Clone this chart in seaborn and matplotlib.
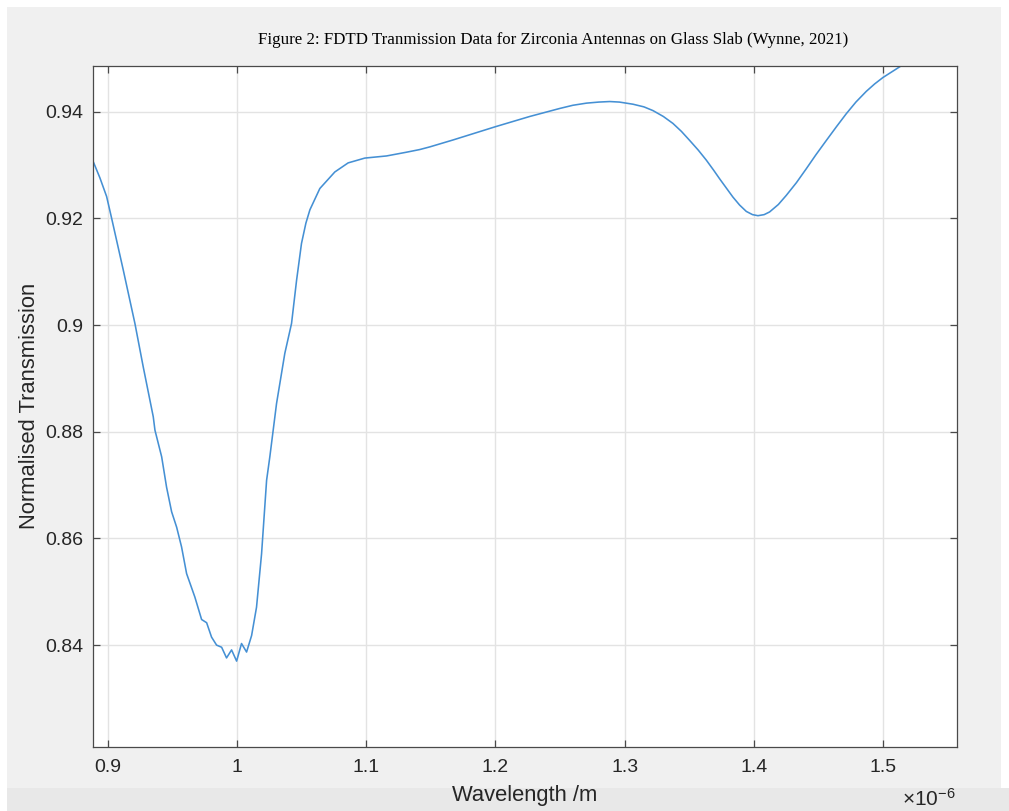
import matplotlib
matplotlib.use("Agg")
import matplotlib.pyplot as plt
import matplotlib.patches as mpatches
from matplotlib.ticker import FixedLocator, FuncFormatter
import seaborn as sns
import pandas as pd

# Wavelength in micrometres (axis shows value x 10^-6 m)
wavelength_um = [
    0.8889, 0.8940, 0.8992, 0.9031, 0.9121, 0.9211, 0.9275, 0.9353, 0.9366, 0.9418,
    0.9456, 0.9495, 0.9534, 0.9572, 0.9611, 0.9675, 0.9727, 0.9766, 0.9804, 0.9843,
    0.9882, 0.9920, 0.9959, 0.9998, 1.0036, 1.0075, 1.0114, 1.0152, 1.0191, 1.0230,
    1.0255, 1.0307, 1.0371, 1.0423, 1.0462, 1.0500, 1.0534, 1.0565, 1.0642, 1.0758,
    1.0861, 1.0990, 1.1158, 1.1312, 1.1415, 1.1493, 1.1673, 1.2003, 1.2266, 1.2498,
    1.2600, 1.2705, 1.2800, 1.2885, 1.2960, 1.3065, 1.3150, 1.3220, 1.3300, 1.3374,
    1.3440, 1.3504, 1.3570, 1.3633, 1.3690, 1.3736, 1.3790, 1.3838, 1.3890, 1.3942,
    1.3990, 1.4032, 1.4080, 1.4122, 1.4190, 1.4251, 1.4330, 1.4406, 1.4480, 1.4561,
    1.4640, 1.4715, 1.4790, 1.4870, 1.4935, 1.4999, 1.5070, 1.5141, 1.5244,
]
transmission = [
    0.9306, 0.9276, 0.9241, 0.9200, 0.9103, 0.9003, 0.8922, 0.8828, 0.8803, 0.8753,
    0.8696, 0.8650, 0.8621, 0.8584, 0.8534, 0.8490, 0.8448, 0.8442, 0.8415, 0.8400,
    0.8396, 0.8376, 0.8391, 0.8370, 0.8403, 0.8387, 0.8418, 0.8471, 0.8571, 0.8709,
    0.8753, 0.8853, 0.8947, 0.9003, 0.9084, 0.9153, 0.9191, 0.9216, 0.9256, 0.9287,
    0.9304, 0.9313, 0.9317, 0.9324, 0.9329, 0.9334, 0.9347, 0.9372, 0.9391, 0.9406,
    0.9412, 0.9416, 0.9418, 0.9419, 0.9418, 0.9414, 0.9409, 0.9402, 0.9391, 0.9378,
    0.9363, 0.9346, 0.9328, 0.9309, 0.9290, 0.9274, 0.9256, 0.9240, 0.9225, 0.9213,
    0.9207, 0.9205, 0.9207, 0.9212, 0.9226, 0.9243, 0.9267, 0.9293, 0.9319, 0.9346,
    0.9372, 0.9396, 0.9418, 0.9438, 0.9452, 0.9464, 0.9475, 0.9486, 0.9500,
]
x_ticks = [0.9, 1.0, 1.1, 1.2, 1.3, 1.4, 1.5]
y_ticks = [0.84, 0.86, 0.88, 0.90, 0.92, 0.94]

title_text = "Figure 2: FDTD Tranmission Data for Zirconia Antennas on Glass Slab (Wynne, 2021)"
x_label = "Wavelength /m"
y_label = "Normalised Transmission"

df = pd.DataFrame({"wavelength": wavelength_um, "transmission": transmission})

sns.set_style("ticks")
plt.rcParams["font.family"] = ["Liberation Sans", "DejaVu Sans"]
plt.rcParams["mathtext.fontset"] = "custom"
plt.rcParams["mathtext.rm"] = "Liberation Sans"
plt.rcParams["mathtext.it"] = "Liberation Sans"

W, H = 1009, 811
fig = plt.figure(figsize=(W / 100, H / 100), dpi=100, facecolor="white")

# MATLAB-like figure background
fig.patches.append(mpatches.Rectangle((7 / W, 23 / H), (1001 - 7) / W, (788 - 7) / H,
                                      transform=fig.transFigure, facecolor="#f0f0f0",
                                      edgecolor="none", zorder=-10))
fig.patches.append(mpatches.Rectangle((7 / W, 0), (W - 7) / W, 23 / H,
                                      transform=fig.transFigure, facecolor="#e8e8e8",
                                      edgecolor="none", zorder=-10))

ax_l, ax_r, ax_t, ax_b = 93.3, 956.7, 65.8, 747.0
ax = fig.add_axes([ax_l / W, 1 - ax_b / H, (ax_r - ax_l) / W, (ax_b - ax_t) / H])
ax.set_facecolor("white")

sns.lineplot(data=df, x="wavelength", y="transmission", ax=ax, color="#4590d4",
             linewidth=1.15, sort=False, estimator=None)

ax.set_xlim(0.8889, 1.557)
ax.set_ylim(0.8209, 0.9486)
ax.xaxis.set_major_locator(FixedLocator(x_ticks))
ax.yaxis.set_major_locator(FixedLocator(y_ticks))
fmt = FuncFormatter(lambda v, p: f"{v:g}")
ax.xaxis.set_major_formatter(fmt)
ax.yaxis.set_major_formatter(fmt)

ax.grid(True, color="#e3e3e3", linewidth=1.0)
ax.set_axisbelow(True)
for s in ax.spines.values():
    s.set_visible(True)
    s.set_color("#4a4a4a")
    s.set_linewidth(0.9)
ax.tick_params(direction="in", length=5, width=0.9, color="#4a4a4a",
               top=True, right=True, labelsize=14, labelcolor="#262626")
ax.tick_params(axis="x", pad=9)
ax.tick_params(axis="y", pad=7)
ax.set_xlabel("")
ax.set_ylabel("")

fig.text(525 / W, 1 - 795 / H, x_label, ha="center", va="center", fontsize=15.8, color="#262626")
fig.text(30 / W, 1 - 406.4 / H, y_label, ha="center", va="center", rotation=90,
         fontsize=15.8, color="#262626")
fig.text(553 / W, 1 - 40 / H, title_text, ha="center", va="center", fontsize=12.2,
         family=["Liberation Serif", "DejaVu Serif"], color="black")
fig.text(956 / W, 1 - 806 / H, "×10$^{\\mathregular{-6}}$", ha="right", va="baseline",
         fontsize=15, color="#262626")

fig.savefig("out.png", dpi=100, facecolor="white")
